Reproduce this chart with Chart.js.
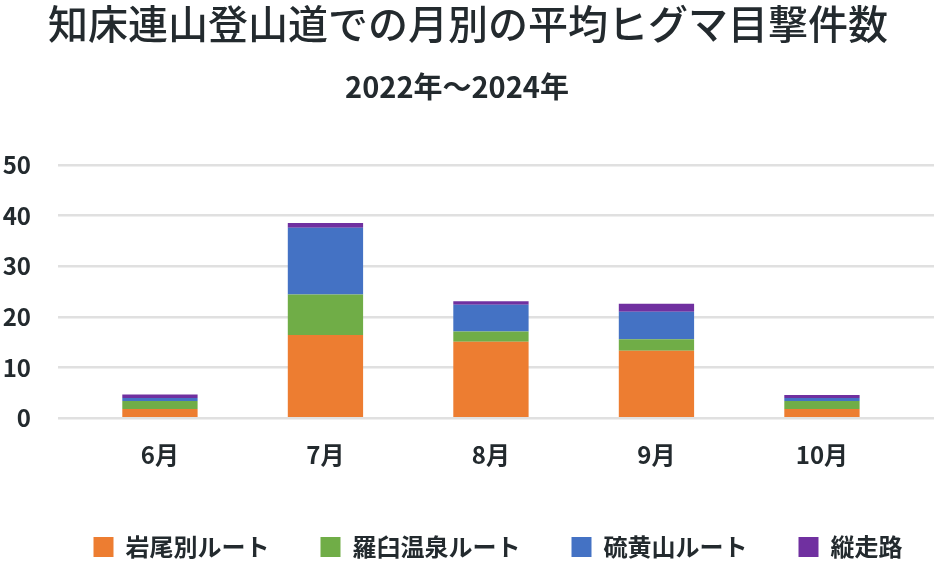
<!DOCTYPE html>
<html lang="ja">
<head>
<meta charset="utf-8">
<title>知床連山登山道での月別の平均ヒグマ目撃件数</title>
<script src="https://cdn.jsdelivr.net/npm/chart.js@4/dist/chart.umd.min.js"></script>
<style>
  html, body { margin: 0; padding: 0; background: #fff; }
  #wrap { width: 934px; height: 581px; }
</style>
</head>
<body>
<div id="wrap"><canvas id="chart"></canvas></div>
<script>
// months on the x axis
const months = ['6月', '7月', '8月', '9月', '10月'];

// average sightings per route (2022–2024)
const iwaobetsu = [1.8, 16.4, 15.1, 13.3, 1.8];
const rausuOnsen = [1.6, 8.0, 2.0, 2.3, 1.6];
const iouzan = [0.6, 13.2, 5.3, 5.4, 0.6];
const jusou = [0.7, 0.9, 0.7, 1.6, 0.6];

const yTicks = [0, 10, 20, 30, 40, 50];

const routeNames = ['岩尾別ルート', '羅臼温泉ルート', '硫黄山ルート', '縦走路'];
const routeColors = ['#ED7D31', '#70AD47', '#4472C4', '#7030A0'];

const SUBTITLE = '2022年～2024年';
const FONT = '"Noto Sans CJK JP", "Noto Sans", sans-serif';
const INK = '#232a2e';

const series = [iwaobetsu, rausuOnsen, iouzan, jusou];

const datasets = series.map((vals, i) => ({
  label: routeNames[i],
  data: vals.map((v, idx) => ({ x: idx, y: v })),
  backgroundColor: routeColors[i],
  borderWidth: 0,
  categoryPercentage: 1.0,
  barPercentage: 0.455,
}));

// nudge legend / subtitle sideways after layout
const nudge = {
  id: 'nudge',
  afterLayout(chart) {
    const lg = chart.legend;
    if (lg) { lg.left += 30; lg.right += 30; }
    const sub = chart.boxes.find(b => b.options && b.options.text === SUBTITLE);
    if (sub) { sub.left -= 11; sub.right -= 11; }
  },
};

new Chart(document.getElementById('chart'), {
  type: 'bar',
  data: { datasets },
  plugins: [nudge],
  options: {
    responsive: true,
    maintainAspectRatio: false,
    animation: false,
    layout: { padding: { left: 2, right: 0, top: 0, bottom: 12 } },
    plugins: {
      title: {
        display: true,
        text: '知床連山登山道での月別の平均ヒグマ目撃件数',
        color: INK,
        font: { family: FONT, size: 40, weight: '500' },
        padding: { top: 0, bottom: 22 },
      },
      subtitle: {
        display: true,
        text: SUBTITLE,
        color: INK,
        font: { family: FONT, size: 29, weight: 'bold' },
        padding: { top: 0, bottom: 60 },
      },
      legend: {
        position: 'bottom',
        labels: {
          color: INK,
          font: { family: FONT, size: 24, weight: 'bold' },
          boxWidth: 20,
          boxHeight: 20,
          padding: 51,
        },
      },
      tooltip: { enabled: false },
    },
    scales: {
      x: {
        type: 'linear',
        offset: false,
        min: -0.616,
        max: 4.677,
        stacked: true,
        grid: { display: false },
        border: { display: false },
        afterFit: (scale) => { scale.height += 1; },
        ticks: {
          stepSize: 1,
          includeBounds: false,
          autoSkip: false,
          maxRotation: 0,
          padding: 14,
          color: INK,
          font: { family: FONT, size: 24, weight: 'bold' },
          callback: (v) => Number.isInteger(v) && months[v] ? months[v] : '',
        },
      },
      y: {
        stacked: true,
        min: yTicks[0],
        max: yTicks[yTicks.length - 1],
        grid: { color: '#e0e0e0', lineWidth: 2.5, drawTicks: false },
        border: { display: false },
        afterBuildTicks: (scale) => { scale.ticks = yTicks.map(v => ({ value: v })); },
        afterFit: (scale) => { scale.width = 56; },
        ticks: {
          padding: 27,
          color: INK,
          font: { family: FONT, size: 24, weight: 'bold' },
        },
      },
    },
  },
});
</script>
</body>
</html>
